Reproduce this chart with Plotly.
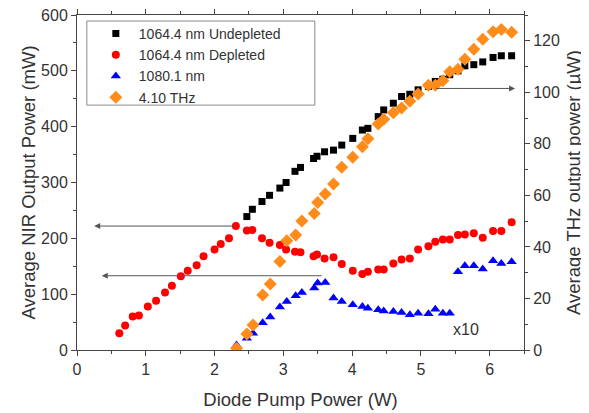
import plotly.graph_objects as go

# ---- data ----
# Diode pump power (W) for each series
pump_depleted = [0.615, 0.70, 0.81, 0.90, 1.03, 1.15, 1.28, 1.38, 1.51, 1.61, 1.74, 1.84,
                 2.00, 2.09, 2.21, 2.31, 2.47, 2.55, 2.69, 2.80, 2.95, 3.04, 3.17, 3.25,
                 3.44, 3.49, 3.60, 3.73, 3.85, 4.01, 4.15, 4.23, 4.38, 4.46, 4.60, 4.72,
                 4.84, 4.96, 5.11, 5.21, 5.32, 5.42, 5.54, 5.64, 5.77, 5.90, 6.05, 6.17, 6.32]
nir_depleted = [30, 44, 60, 62, 78, 88, 103, 115, 132, 142, 152, 168,
                180, 190, 200, 222, 214, 215, 200, 192, 188, 180, 176, 175,
                168, 171, 164, 166, 154, 142, 136, 140, 144, 144, 155, 162,
                164, 180, 186, 194, 198, 198, 206, 207, 209, 201, 213, 213, 229]

pump_undepleted = [2.47, 2.55, 2.69, 2.80, 2.95, 3.04, 3.17, 3.25, 3.44, 3.49, 3.60, 3.73,
                   3.85, 4.01, 4.15, 4.23, 4.38, 4.46, 4.60, 4.72, 4.84, 4.96, 5.11, 5.21,
                   5.32, 5.42, 5.54, 5.64, 5.77, 5.90, 6.05, 6.17, 6.32]
nir_undepleted = [239, 252, 266, 277, 290, 300, 320, 327, 343, 347, 355, 358,
                  367, 379, 394, 397, 418, 430, 442, 454, 458, 466, 472, 481,
                  485, 493, 500, 509, 511, 516, 524, 527, 527]

pump_above = [2.32, 2.47, 2.56, 2.70, 2.81, 2.95, 3.05, 3.18, 3.27, 3.45, 3.50, 3.61,
              3.73, 3.85, 4.01, 4.15, 4.23, 4.38, 4.46, 4.60, 4.72, 4.84, 4.96, 5.11,
              5.21, 5.32, 5.42, 5.54, 5.64, 5.77, 5.90, 6.05, 6.17, 6.32]
nir_1080_x10 = [9, 21, 30, 49, 59, 77, 87, 97, 103, 111, 120, 121,
                93, 87, 81, 78, 75, 72, 70, 69, 67, 63, 66, 65,
                73, 66, 66, 140, 151, 151, 145, 160, 155, 158]
thz_power = [0.7, 6.2, 9.7, 21.3, 25.6, 34.3, 42.4, 44.6, 50.1, 53.0, 57.2, 60.5,
             64.4, 70.9, 74.8, 78.9, 82.0, 87.7, 89.5, 92.1, 93.9, 96.5, 99.3, 102.7,
             102.7, 104.5, 108.0, 108.9, 112.8, 116.7, 120.6, 123.5, 124.4, 123.3]

series_names = ["1064.4 nm Undepleted", "1064.4 nm Depleted", "1080.1 nm", "4.10 THz"]

FONT = "Liberation Sans, Arial, sans-serif"
TXT = "#333333"
AX = "#444444"

fig = go.Figure()
fig.add_trace(go.Scatter(x=pump_undepleted, y=nir_undepleted, mode="markers", name=series_names[0],
                         marker=dict(symbol="square", size=7, color="black")))
fig.add_trace(go.Scatter(x=pump_depleted, y=nir_depleted, mode="markers", name=series_names[1],
                         marker=dict(symbol="circle", size=8, color="#ff0000")))
fig.add_trace(go.Scatter(x=pump_above, y=nir_1080_x10, mode="markers", name=series_names[2],
                         marker=dict(symbol="triangle-up", size=9, color="#0000ff")))
fig.add_trace(go.Scatter(x=pump_above, y=thz_power, mode="markers", name=series_names[3], yaxis="y2",
                         marker=dict(symbol="diamond", size=10, color="#ff8c1a")))

arrow_common = dict(showarrow=True, arrowhead=2, arrowsize=1.2, arrowwidth=1, arrowcolor="#555555",
                    text="", xref="x", axref="x")
ann = [
    dict(x=0.25, y=nir_depleted[15], ax=pump_depleted[15], ay=nir_depleted[15],
         yref="y", ayref="y", **arrow_common),
    dict(x=0.36, y=133, ax=3.58, ay=133, yref="y", ayref="y", **arrow_common),
    dict(x=6.37, y=101.5, ax=5.20, ay=101.5, yref="y2", ayref="y2", **arrow_common),
    dict(x=5.65, y=37, xref="x", yref="y", text="x10", showarrow=False,
         font=dict(family=FONT, size=16, color=TXT)),
]

axis_common = dict(showline=True, linecolor=AX, linewidth=1, ticks="outside", ticklen=5,
                   tickcolor=AX, showgrid=False, zeroline=False, automargin=False,
                   ticklabeloverflow="allow",
                   tickfont=dict(family=FONT, size=16, color=TXT))
TITLE_FONT = dict(family=FONT, size=18.5, color=TXT)

# legend frame (drawn as a shape so its size matches the reference box)
legend_frame = dict(type="rect", xref="paper", yref="paper", x0=0.022, x1=0.532, y0=0.731, y1=0.982,
                    line=dict(color="#888888", width=1), fillcolor="white", layer="below")

# page has an 8px body margin: compensate so the plot area lands where the reference has it
fig.update_layout(
    width=581, height=405,
    margin=dict(l=69, r=65, t=7, b=63, autoexpand=False),
    paper_bgcolor="white", plot_bgcolor="white",
    font=dict(family=FONT, size=15, color=TXT),
    xaxis=dict(range=[0, 6.5], dtick=1, mirror="ticks",
               minor=dict(dtick=0.5, ticks="outside", ticklen=3, tickcolor=AX),
               title=dict(text="Diode Pump Power (W)", font=TITLE_FONT, standoff=15),
               **axis_common),
    yaxis=dict(range=[0, 600], dtick=100,
               minor=dict(dtick=50, ticks="outside", ticklen=3, tickcolor=AX),
               title=dict(text="Average NIR Output Power (mW)", font=TITLE_FONT, standoff=0),
               **axis_common),
    yaxis2=dict(range=[0, 130], dtick=20, overlaying="y", side="right",
                minor=dict(dtick=10, ticks="outside", ticklen=3, tickcolor=AX),
                title=dict(text="Average THz output power (µW)", font=TITLE_FONT, standoff=8),
                **axis_common),
    legend=dict(x=0.022, y=0.991, xanchor="left", yanchor="top", bgcolor="rgba(0,0,0,0)",
                borderwidth=0, indentation=6, itemwidth=36,
                font=dict(family=FONT, size=14, color=TXT), tracegroupgap=0),
    shapes=[legend_frame],
    annotations=ann,
    showlegend=True,
)

fig.write_html("out.html")
